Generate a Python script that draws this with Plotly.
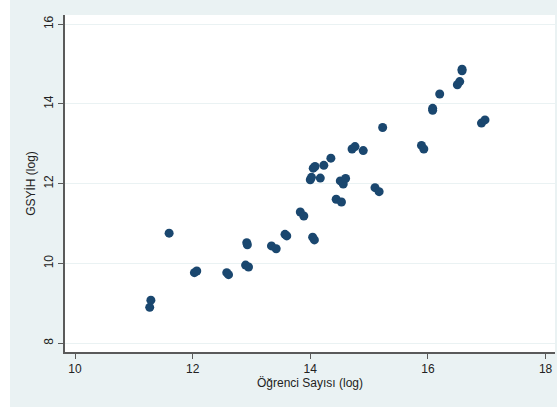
import plotly.graph_objects as go

ogrenci_log = [11.27, 11.29, 11.60, 12.03, 12.07, 12.58, 12.61, 12.92, 12.93, 12.90, 12.95,
               13.34, 13.42, 13.57, 13.60, 13.83, 13.89, 14.04, 14.07, 14.00, 14.02, 14.05, 14.08,
               14.17, 14.23, 14.35, 14.44, 14.53, 14.51, 14.56, 14.60, 14.71, 14.76, 14.90,
               15.10, 15.17, 15.23, 15.89, 15.93, 16.08, 16.08, 16.20, 16.50, 16.54, 16.58, 16.58,
               16.91, 16.97]
gsyih_log = [8.90, 9.08, 10.76, 9.77, 9.81, 9.77, 9.72, 10.52, 10.47, 9.96, 9.91,
             10.44, 10.37, 10.73, 10.69, 11.29, 11.19, 10.66, 10.59, 12.10, 12.16, 12.39, 12.43,
             12.14, 12.46, 12.64, 11.61, 11.54, 12.07, 11.99, 12.13, 12.87, 12.93, 12.83,
             11.90, 11.80, 13.41, 12.96, 12.87, 13.89, 13.84, 14.25, 14.48, 14.56, 14.83, 14.87,
             13.52, 13.60]

x_ticks = [10, 12, 14, 16, 18]
y_ticks = [8, 10, 12, 14, 16]

bg = "#EAF2F3"
navy = "#1A476F"
axis_col = "#5A5A5A"
font_fam = "Liberation Sans, Arial, sans-serif"

fig = go.Figure()
fig.add_trace(go.Scatter(
    x=ogrenci_log, y=gsyih_log, mode="markers",
    marker=dict(color=navy, size=9, line=dict(width=0)),
    showlegend=False, hoverinfo="x+y"))

W, H = 557, 410
ml, mr, mt, mb = 65, 2, 15, 58
pw, ph = W - ml - mr, H - mt - mb

def px_x(p):
    return (p - ml) / pw

def px_y(p):
    return (H - mb - p) / ph

fig.update_layout(
    width=W, height=H,
    margin=dict(l=ml, r=mr, t=mt, b=mb, pad=0, autoexpand=False),
    paper_bgcolor=bg, plot_bgcolor="white",
    font=dict(family=font_fam, size=12, color="#222222"),
    xaxis=dict(
        range=[9.83, 18.16], tickvals=x_ticks, ticktext=[str(v) for v in x_ticks],
        showgrid=False, zeroline=False, automargin=False,
        showline=True, linecolor=axis_col, linewidth=1.5,
        ticks="outside", ticklen=5, tickcolor=axis_col, tickwidth=1,
        tickfont=dict(size=12, color="#222222"),
        title=dict(text="Öğrenci Sayısı (log)", font=dict(size=12, color="#222222"), standoff=2),
    ),
    yaxis=dict(
        range=[7.78, 16.23], tickvals=y_ticks, ticktext=[str(v) for v in y_ticks],
        showgrid=True, gridcolor=bg, gridwidth=1.2, zeroline=False, automargin=False,
        showline=True, linecolor=axis_col, linewidth=1.5,
        ticks="outside", ticklen=5, tickcolor=axis_col, tickwidth=1,
        tickangle=-90,
        tickfont=dict(size=12, color="#222222"),
        title=dict(text="GSYİH (log)", font=dict(size=12, color="#222222"), standoff=4),
    ),
    shapes=[
        dict(type="rect", xref="paper", yref="paper",
             x0=px_x(0), x1=px_x(10), y0=px_y(0), y1=px_y(H),
             fillcolor="white", line=dict(width=0), layer="above"),
        dict(type="rect", xref="paper", yref="paper",
             x0=px_x(0), x1=px_x(W), y0=px_y(407), y1=px_y(H),
             fillcolor="white", line=dict(width=0), layer="above"),
    ],
)

fig.write_html("out.html", config={"displayModeBar": False},
               post_script="document.body.style.margin='0';")
